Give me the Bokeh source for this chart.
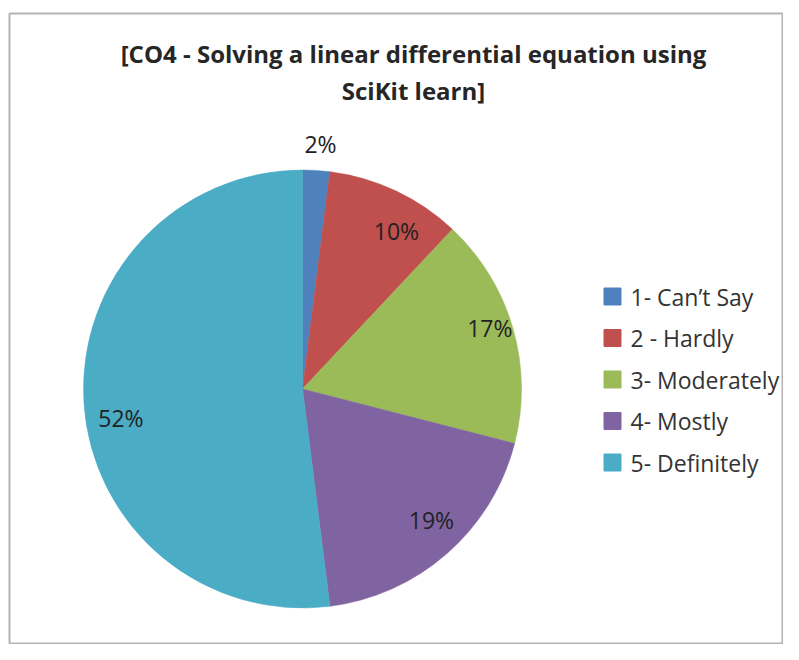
import numpy as np
from bokeh.plotting import figure
from bokeh.models import Range1d, ColumnDataSource
from bokeh.core.properties import value
from bokeh.embed import file_html
from bokeh.resources import INLINE

# ---- data ----
categories = ["1- Can\u2019t Say", "2 - Hardly", "3- Moderately", "4- Mostly", "5- Definitely"]
percents = [2, 10, 17, 19, 52]
colors = ["#4F81BD", "#C0504D", "#9BBB59", "#8064A2", "#4BACC6"]
title_lines = ["[CO4 - Solving a linear differential equation using", "SciKit learn]"]

# ---- layout / style ----
W, H = 783, 644
FONT = "Open Sans"
cx, cy, R = 302, 660 - 388.5, 219
label_radius = [1.12, 0.84, 0.90, 0.84, 0.84]
label_shift_deg = [0.6, 5.5, -1.9, -3.1, -5.6]

p = figure(width=W, height=H, output_backend="svg", toolbar_location=None,
           x_range=Range1d(9, 783), y_range=Range1d(16, 647),
           min_border_left=9, min_border_right=0, min_border_top=13, min_border_bottom=0)
p.axis.visible = False
p.grid.visible = False
p.outline_line_color = "#b4b4b4"
p.outline_line_width = 2
p.background_fill_color = "white"

vals = np.array(percents, dtype=float)
frac = vals / vals.sum()
cum_end = np.cumsum(frac)
cum_start = cum_end - frac
start_angle = np.pi / 2 - cum_start * 2 * np.pi
end_angle = np.pi / 2 - cum_end * 2 * np.pi

src = ColumnDataSource(dict(start=start_angle, end=end_angle, color=colors,
                            x=[cx] * len(vals), y=[cy] * len(vals)))
p.wedge(x="x", y="y", radius=R, start_angle="start", end_angle="end",
        direction="clock", fill_color="color", line_color="color", line_width=0.5, source=src)

# labels
mid = (cum_start + cum_end) / 2 * 2 * np.pi + np.radians(label_shift_deg)
lr = np.array(label_radius) * R
lx = cx + lr * np.sin(mid)
ly = cy + lr * np.cos(mid)
p.text(x=lx, y=ly, text=[f"{v}%" for v in percents], text_align="center",
       text_baseline="middle", text_font=value(FONT), text_font_size="23px",
       text_color="#222222")

# title
tx = 413
p.text(x=[tx] * len(title_lines), y=[660 - 53, 660 - 90], text=title_lines,
       text_align="center", text_baseline="middle", text_font=value(FONT),
       text_font_size="24px", text_font_style="bold", text_color="#262626")

# legend
leg_x, leg_y0, leg_dy = 612, 660 - 296, 41.5
ly_leg = [leg_y0 - i * leg_dy for i in range(len(categories))]
p.scatter(x=[leg_x] * len(categories), y=ly_leg, marker="square", size=17,
          fill_color=colors, line_color=colors)
p.text(x=[leg_x + 18] * len(categories), y=ly_leg, text=categories,
       text_align="left", text_baseline="middle", text_font=value(FONT),
       text_font_size="23px", text_color="#333333")

open("out.html", "w").write(file_html(p, INLINE))
